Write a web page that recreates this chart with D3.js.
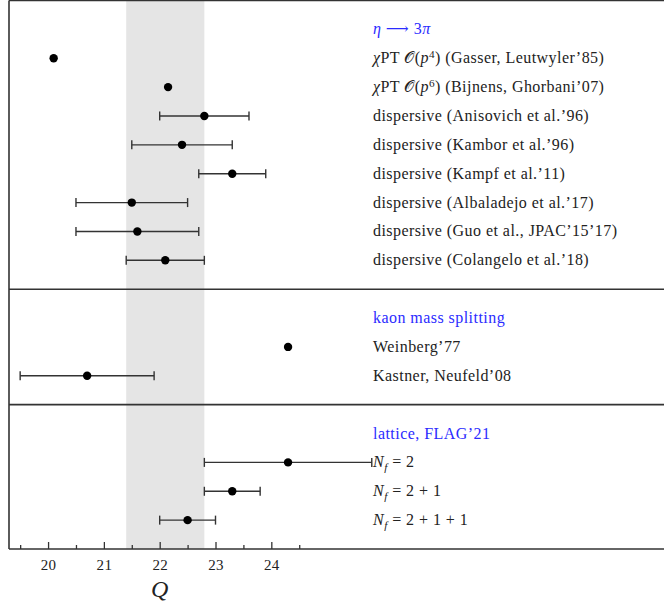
<!DOCTYPE html>
<html>
<head>
<meta charset="utf-8">
<script src="https://cdn.jsdelivr.net/npm/d3@7"></script>
<style>
  body { margin: 0; background: #fff; }
  svg { display: block; font-family: "Liberation Serif", "DejaVu Serif", serif; }
</style>
</head>
<body>
<svg id="chart" width="664" height="605"></svg>
<script>
// --- data ---
// markup: *x* italic, ^x^ superscript, ~x~ italic subscript
var groupTitles = ["*η* ⟶ 3*π*", "kaon mass splitting", "lattice, FLAG’21"];
var groupSizes = [8, 2, 3];

var labels = [
  "*χ*PT 𝒪(*p*^4^) (Gasser, Leutwyler’85)",
  "*χ*PT 𝒪(*p*^6^) (Bijnens, Ghorbani’07)",
  "dispersive (Anisovich et al.’96)",
  "dispersive (Kambor et al.’96)",
  "dispersive (Kampf et al.’11)",
  "dispersive (Albaladejo et al.’17)",
  "dispersive (Guo et al., JPAC’15’17)",
  "dispersive (Colangelo et al.’18)",
  "Weinberg’77",
  "Kastner, Neufeld’08",
  "*N*~f~ = 2",
  "*N*~f~ = 2 + 1",
  "*N*~f~ = 2 + 1 + 1"
];
var qCentral = [20.1, 22.15, 22.8, 22.4, 23.3, 21.5, 21.6, 22.1, 24.3, 20.7, 24.3, 23.3, 22.5];
var qLow     = [null, null, 22.0, 21.5, 22.7, 20.5, 20.5, 21.4, null, 19.5, 22.8, 22.8, 22.0];
var qHigh    = [null, null, 23.6, 23.3, 23.9, 22.5, 22.7, 22.8, null, 21.9, 25.8, 23.8, 23.0];

var bandLow = 21.4, bandHigh = 22.8;
var majorTicks = [20, 21, 22, 23, 24];
var minorTicks = [19.5, 20.5, 21.5, 22.5, 23.5, 24.5];

// --- layout: one row per header / item, a spare row between groups ---
var rows = [];
var dividers = [];
var r = 0, k = 0;
groupSizes.forEach(function(n, g){
    rows.push({type: "title", text: groupTitles[g], row: r}); r++;
    for (var i = 0; i < n; i++){
        rows.push({type: "item", text: labels[k], idx: k, row: r}); r++; k++;
    }
    if (g < groupSizes.length - 1) { dividers.push(r); r++; }
});
var lastRow = r; // axis row

var svg = d3.select("#chart");
var x = d3.scaleLinear().domain([19.3, 31.0]).range([9, 662]);
var y = d3.scaleLinear().domain([-1, lastRow]).range([0.5, 549]);
var labelX = 373;
var ink = "#333";

// grey band
svg.append("rect")
    .attr("x", x(bandLow)).attr("y", y(-1))
    .attr("width", x(bandHigh) - x(bandLow))
    .attr("height", y(lastRow) - y(-1))
    .attr("fill", "#e5e5e5");

// frame
svg.append("line").attr("x1", x(19.3)).attr("x2", 700).attr("y1", y(-1)).attr("y2", y(-1))
    .attr("stroke", ink).attr("stroke-width", 1.6);
svg.append("line").attr("x1", x(19.3)).attr("x2", x(19.3)).attr("y1", y(-1)).attr("y2", y(lastRow))
    .attr("stroke", ink).attr("stroke-width", 1.6);
svg.selectAll(".divider").data(dividers).enter().append("line")
    .attr("x1", x(19.3)).attr("x2", 700)
    .attr("y1", function(d){ return y(d); }).attr("y2", function(d){ return y(d); })
    .attr("stroke", ink).attr("stroke-width", 1.6);

// axis
var axisG = svg.append("g").attr("transform", "translate(0," + y(lastRow) + ")");
axisG.call(d3.axisBottom(x).tickValues(majorTicks).tickSizeInner(-7).tickSizeOuter(0)
        .tickPadding(10).tickFormat(d3.format("d")));
axisG.append("g").call(d3.axisBottom(x).tickValues(minorTicks).tickSizeInner(-4).tickSizeOuter(0)
        .tickFormat(""));
axisG.selectAll(".domain").remove();
axisG.selectAll("line").attr("stroke", ink).attr("stroke-width", 1.3);
axisG.selectAll("text").attr("font-family", "Liberation Serif").attr("font-size", 15)
    .attr("letter-spacing", 0.3).attr("fill", "#222");
svg.append("line").attr("x1", x(19.3)).attr("x2", 700).attr("y1", y(lastRow)).attr("y2", y(lastRow))
    .attr("stroke", ink).attr("stroke-width", 1.6);

svg.append("text").attr("x", x(22)).attr("y", 597)
    .attr("text-anchor", "middle").attr("font-style", "italic")
    .attr("font-size", 24).attr("fill", "#222").text("Q");

// rich text helper
function richText(sel, str){
    var parts = str.split(/(\*[^*]+\*|\^[^^]+\^|~[^~]+~)/).filter(function(s){ return s.length; });
    var shift = 0;
    parts.forEach(function(p){
        var t = sel.append("tspan");
        var dy = 0;
        if (p[0] == "*"){ t.attr("font-style", "italic").text(p.slice(1, -1)); }
        else if (p[0] == "^"){ t.attr("font-size", "0.7em").text(p.slice(1, -1)); dy = -5; }
        else if (p[0] == "~"){ t.attr("font-size", "0.7em").attr("font-style", "italic").text(p.slice(1, -1)); dy = 4; }
        else { t.text(p); }
        t.attr("dy", dy - shift);
        shift = dy;
    });
}

// labels
svg.selectAll(".lab").data(rows).enter().append("text")
    .attr("class", "lab")
    .attr("x", labelX)
    .attr("y", function(d){ return y(d.row) + 5; })
    .attr("font-size", 16)
    .attr("letter-spacing", 0.45)
    .attr("fill", function(d){ return d.type == "title" ? "#2b2bff" : "#222"; })
    .each(function(d){ richText(d3.select(this), d.text); });

// error bars and points
var items = rows.filter(function(d){ return d.type == "item"; });
var withErr = items.filter(function(d){ return qLow[d.idx] != null; });

var eb = svg.selectAll(".err").data(withErr).enter().append("g").attr("class", "err")
    .attr("stroke", ink).attr("stroke-width", 1.4);
eb.append("line")
    .attr("x1", function(d){ return x(qLow[d.idx]); })
    .attr("x2", function(d){ return x(qHigh[d.idx]); })
    .attr("y1", function(d){ return y(d.row); })
    .attr("y2", function(d){ return y(d.row); });
eb.append("line")
    .attr("x1", function(d){ return x(qLow[d.idx]); })
    .attr("x2", function(d){ return x(qLow[d.idx]); })
    .attr("y1", function(d){ return y(d.row) - 4.5; })
    .attr("y2", function(d){ return y(d.row) + 4.5; });
eb.append("line")
    .attr("x1", function(d){ return x(qHigh[d.idx]); })
    .attr("x2", function(d){ return x(qHigh[d.idx]); })
    .attr("y1", function(d){ return y(d.row) - 4.5; })
    .attr("y2", function(d){ return y(d.row) + 4.5; });

svg.selectAll(".pt").data(items).enter().append("circle")
    .attr("cx", function(d){ return x(qCentral[d.idx]); })
    .attr("cy", function(d){ return y(d.row); })
    .attr("r", 4.2)
    .attr("fill", "#000");
</script>
</body>
</html>
